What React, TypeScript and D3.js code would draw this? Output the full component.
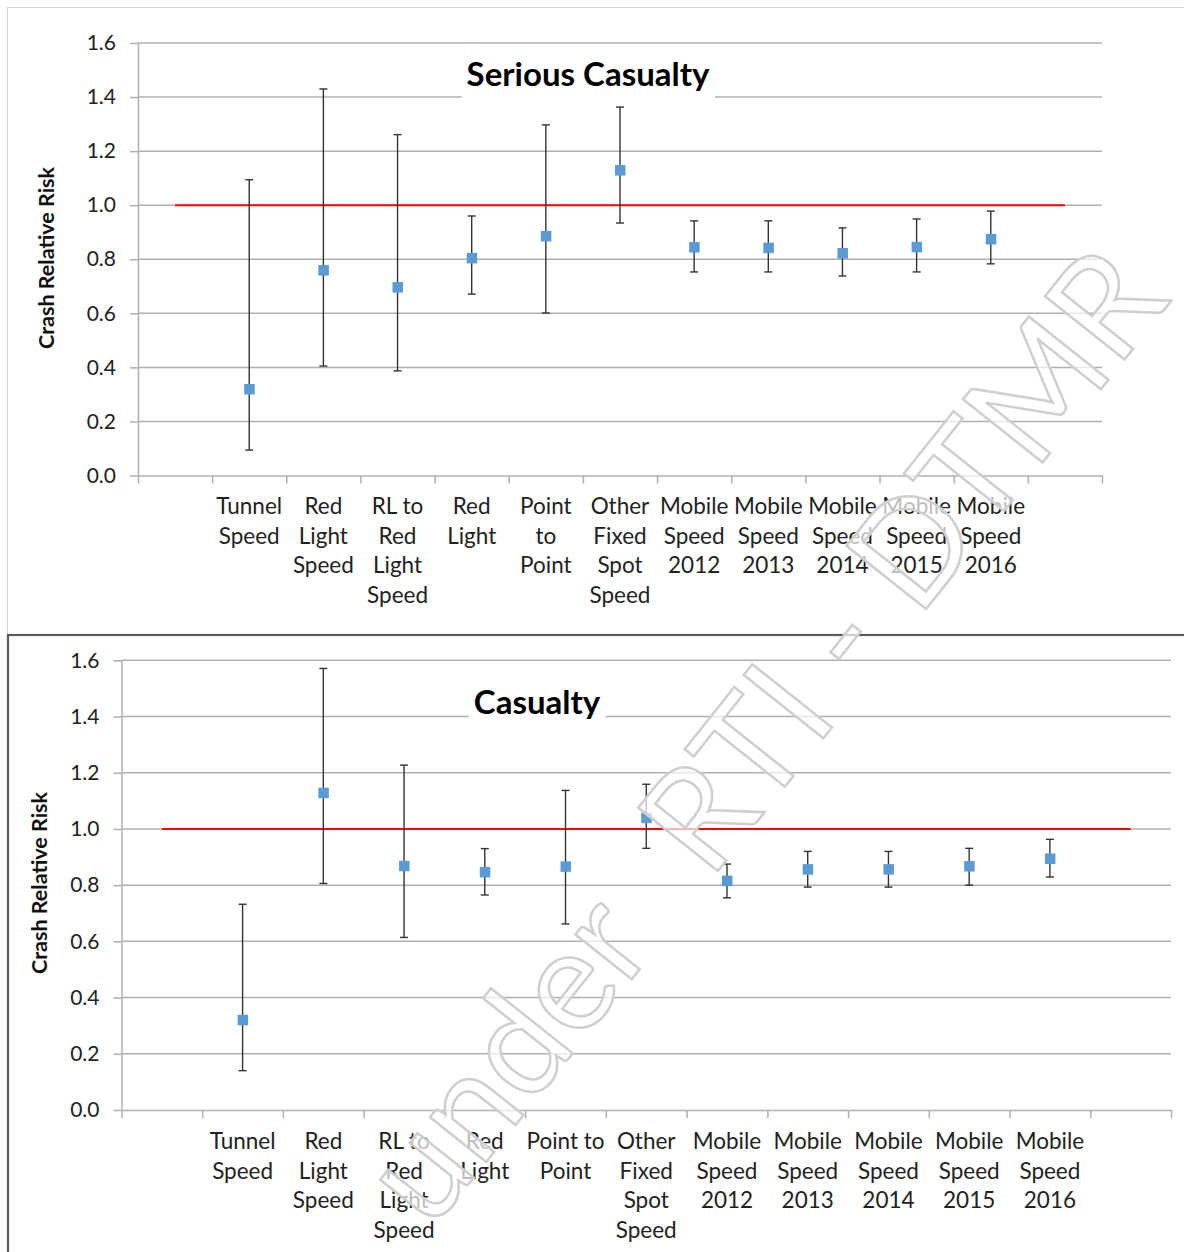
import React, { useEffect, useRef } from 'react';
import * as d3 from 'd3';

// camera types, one per point (blank slots at both ends of the axis)
const methods = [
  'Tunnel Speed', 'Red Light Speed', 'RL to Red Light Speed', 'Red Light', 'Point to Point',
  'Other Fixed Spot Speed', 'Mobile Speed 2012', 'Mobile Speed 2013', 'Mobile Speed 2014',
  'Mobile Speed 2015', 'Mobile Speed 2016',
];
const categories = ['', ...methods, ''];

// Serious casualty crash relative risk + 95% interval
const seriousRR = [0.32, 0.76, 0.697, 0.805, 0.886, 1.13, 0.845, 0.843, 0.823, 0.846, 0.875];
const seriousLower = [0.094, 0.405, 0.387, 0.671, 0.601, 0.934, 0.753, 0.753, 0.738, 0.753, 0.783];
const seriousUpper = [1.094, 1.43, 1.261, 0.96, 1.297, 1.363, 0.942, 0.942, 0.916, 0.949, 0.978];

// Casualty crash relative risk + 95% interval
const casualtyRR = [0.321, 1.129, 0.869, 0.847, 0.867, 1.04, 0.816, 0.857, 0.857, 0.868, 0.895];
const casualtyLower = [0.14, 0.806, 0.614, 0.765, 0.662, 0.931, 0.755, 0.793, 0.793, 0.8, 0.829];
const casualtyUpper = [0.732, 1.571, 1.227, 0.93, 1.137, 1.159, 0.875, 0.92, 0.92, 0.931, 0.963];

const referenceRR = 1.0;
const yTicks = [0, 0.2, 0.4, 0.6, 0.8, 1.0, 1.2, 1.4, 1.6];

// wrapped tick labels as they appear in each chart
const seriousLabelLines = [
  [], ['Tunnel', 'Speed'], ['Red', 'Light', 'Speed'], ['RL to', 'Red', 'Light', 'Speed'], ['Red', 'Light'],
  ['Point', 'to', 'Point'], ['Other', 'Fixed', 'Spot', 'Speed'], ['Mobile', 'Speed', '2012'],
  ['Mobile', 'Speed', '2013'], ['Mobile', 'Speed', '2014'], ['Mobile', 'Speed', '2015'],
  ['Mobile', 'Speed', '2016'], [],
];
const casualtyLabelLines = [
  [], ['Tunnel', 'Speed'], ['Red', 'Light', 'Speed'], ['RL to', 'Red', 'Light', 'Speed'], ['Red', 'Light'],
  ['Point to', 'Point'], ['Other', 'Fixed', 'Spot', 'Speed'], ['Mobile', 'Speed', '2012'],
  ['Mobile', 'Speed', '2013'], ['Mobile', 'Speed', '2014'], ['Mobile', 'Speed', '2015'],
  ['Mobile', 'Speed', '2016'], [],
];

const FONT = 'Lato, "Open Sans", sans-serif';
const GRID = '#b0b0b0';

function drawPanel(svg, p) {
  const g = svg.append('g');
  const n = categories.length;

  const x = d3.scaleBand().domain(d3.range(n)).range([p.left, p.right]).padding(0);
  const xEdge = d3.scaleLinear().domain([0, n]).range([p.left, p.right]);
  const y = d3.scaleLinear().domain([0, 1.6]).range([p.bottom, p.top]);
  const cx = (i) => x(i) + x.bandwidth() / 2;

  // horizontal gridlines
  g.selectAll('line.grid')
    .data(yTicks.filter((t) => t > 0))
    .join('line')
    .attr('x1', p.left)
    .attr('x2', p.right)
    .attr('y1', (d) => y(d))
    .attr('y2', (d) => y(d))
    .attr('stroke', GRID)
    .attr('stroke-width', 1.5);

  // y axis
  const yAxis = g.append('g')
    .attr('transform', `translate(${p.left},0)`)
    .call(d3.axisLeft(y).tickValues(yTicks).tickFormat(d3.format('.1f')).tickSize(8).tickSizeOuter(0).tickPadding(14));
  yAxis.select('.domain').attr('stroke', GRID).attr('stroke-width', 1.5);
  yAxis.selectAll('.tick line').attr('stroke', GRID).attr('stroke-width', 1.5);
  yAxis.selectAll('.tick text')
    .attr('fill', '#222')
    .style('font-family', FONT)
    .style('font-size', '21px');

  // x axis, ticks on the band edges
  const xAxis = g.append('g')
    .attr('transform', `translate(0,${p.bottom})`)
    .call(d3.axisBottom(xEdge).tickValues(d3.range(n + 1)).tickFormat(() => '').tickSize(8).tickSizeOuter(0));
  xAxis.select('.domain').attr('stroke', GRID).attr('stroke-width', 1.5);
  xAxis.selectAll('.tick line').attr('stroke', GRID).attr('stroke-width', 1.5);

  // category labels
  g.selectAll('text.cat')
    .data(p.labels)
    .join('text')
    .attr('class', 'cat')
    .attr('text-anchor', 'middle')
    .attr('fill', '#222')
    .style('font-family', FONT)
    .style('font-size', '22.5px')
    .each(function (lines, i) {
      d3.select(this)
        .selectAll('tspan')
        .data(lines)
        .join('tspan')
        .attr('x', cx(i))
        .attr('y', (d, k) => p.labelY + k * 29.6)
        .text((d) => d);
    });

  // y axis title
  g.append('text')
    .attr('transform', `translate(${p.yTitleX},${p.yTitleY}) rotate(-90)`)
    .attr('text-anchor', 'middle')
    .attr('fill', '#111')
    .style('font-family', FONT)
    .style('font-weight', 'bold')
    .style('font-size', '21.5px')
    .text('Crash Relative Risk');

  // chart title on a white box
  const titleBox = g.append('rect').attr('fill', 'white');
  const title = g.append('text')
    .attr('x', p.titleX)
    .attr('y', p.titleY)
    .attr('text-anchor', 'middle')
    .attr('fill', '#000')
    .style('font-family', FONT)
    .style('font-weight', 'bold')
    .style('font-size', '33px')
    .text(p.title);
  const bb = title.node().getBBox();
  titleBox
    .attr('x', bb.x - 5)
    .attr('y', bb.y - 2)
    .attr('width', bb.width + 10)
    .attr('height', bb.height + 8);

  // reference line at RR = 1
  g.append('path')
    .datum(categories.map((c, i) => i))
    .attr('fill', 'none')
    .attr('stroke', '#ff0000')
    .attr('stroke-width', 2)
    .attr('d', d3.line().x((i) => cx(i)).y(() => y(referenceRR)));

  // error bars
  const rows = p.rr.map((v, k) => ({ i: k + 1, v, lo: p.lower[k], hi: p.upper[k] }));
  const bars = g.selectAll('g.err').data(rows).join('g').attr('class', 'err')
    .attr('stroke', '#333').attr('stroke-width', 1.4);
  bars.append('line')
    .attr('x1', (d) => cx(d.i)).attr('x2', (d) => cx(d.i))
    .attr('y1', (d) => y(d.lo)).attr('y2', (d) => y(d.hi));
  bars.append('line')
    .attr('x1', (d) => cx(d.i) - 4).attr('x2', (d) => cx(d.i) + 4)
    .attr('y1', (d) => y(d.hi)).attr('y2', (d) => y(d.hi));
  bars.append('line')
    .attr('x1', (d) => cx(d.i) - 4).attr('x2', (d) => cx(d.i) + 4)
    .attr('y1', (d) => y(d.lo)).attr('y2', (d) => y(d.lo));

  // markers
  g.selectAll('rect.pt')
    .data(rows)
    .join('rect')
    .attr('class', 'pt')
    .attr('x', (d) => cx(d.i) - 5)
    .attr('y', (d) => y(d.v) - 5)
    .attr('width', 10.5)
    .attr('height', 10.5)
    .attr('fill', '#5b9bd5');
}

export default function App() {
  const svgRef = useRef(null);

  useEffect(() => {
    const svg = d3.select(svgRef.current);
    svg.selectAll('*').remove();

    svg.append('rect').attr('width', 1184).attr('height', 1252).attr('fill', 'white');

    // panel frames
    svg.append('rect')
      .attr('x', 7.5).attr('y', 7.5).attr('width', 1190).attr('height', 628)
      .attr('fill', 'white').attr('stroke', '#d4d4d4').attr('stroke-width', 1);
    svg.append('rect')
      .attr('x', 8).attr('y', 635).attr('width', 1190).attr('height', 640)
      .attr('fill', 'white').attr('stroke', '#5a5a5a').attr('stroke-width', 2.2);

    drawPanel(svg, {
      left: 138, right: 1102, top: 43, bottom: 475.5,
      labels: seriousLabelLines, labelY: 514,
      rr: seriousRR, lower: seriousLower, upper: seriousUpper,
      title: 'Serious Casualty', titleX: 588, titleY: 86,
      yTitleX: 54, yTitleY: 258,
    });

    drawPanel(svg, {
      left: 121.5, right: 1171, top: 660.3, bottom: 1110,
      labels: casualtyLabelLines, labelY: 1149,
      rr: casualtyRR, lower: casualtyLower, upper: casualtyUpper,
      title: 'Casualty', titleX: 537, titleY: 714,
      yTitleX: 47, yTitleY: 883,
    });

    // release watermark, outlined letters on top
    const wm = svg.append('text')
      .attr('transform', 'translate(1172,300) rotate(-51.5)')
      .attr('text-anchor', 'end')
      .attr('fill', 'white')
      .attr('fill-opacity', 0.7)
      .attr('stroke', '#cfcfcf')
      .attr('stroke-width', 2.5)
      .style('font-family', FONT)
      .style('font-size', '142px');
    wm.append('tspan').text('under');
    wm.append('tspan').attr('dx', 50).text(' RTI - DTMR');
  }, []);

  return (
    <div style={{ position: 'absolute', left: 0, top: 0 }}>
      <svg ref={svgRef} width={1184} height={1252} style={{ display: 'block' }} />
    </div>
  );
}
